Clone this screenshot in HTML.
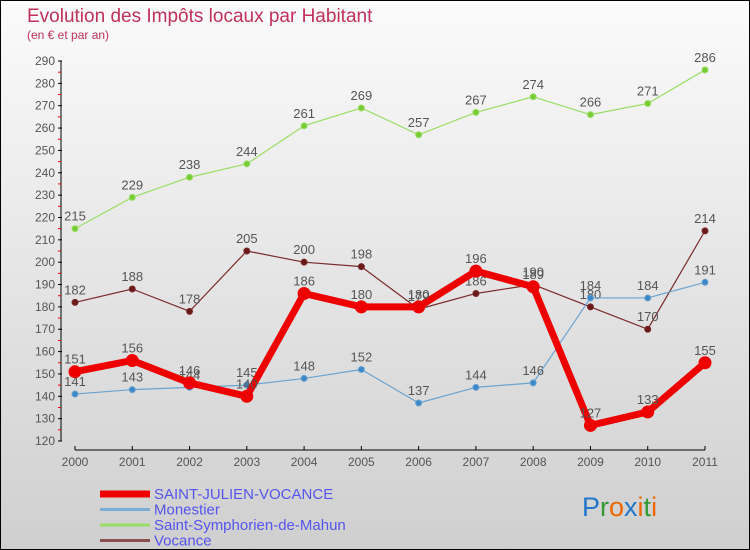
<!DOCTYPE html>
<html><head><meta charset="utf-8"><style>
body{margin:0}
#wrap{width:750px;height:550px;position:relative;box-sizing:border-box;border:1px solid #000;background:linear-gradient(#fbfbfb,#cfcfcf);font-family:"Liberation Sans",sans-serif;overflow:hidden}
</style></head><body>
<div id="wrap">
<svg id="svg" width="750" height="550" style="position:absolute;left:-1px;top:-1px"></svg>
</div>
<script>
const years=[2000,2001,2002,2003,2004,2005,2006,2007,2008,2009,2010,2011];
const sjv=[151,156,146,140,186,180,180,196,189,127,133,155];
const monestier=[141,143,144,145,148,152,137,144,146,184,184,191];
const ssm=[215,229,238,244,261,269,257,267,274,266,271,286];
const vocance=[182,188,178,205,200,198,179,186,190,180,170,214];
const yTicks=[120,130,140,150,160,170,180,190,200,210,220,230,240,250,260,270,280,290];
const NS='http://www.w3.org/2000/svg';
const svg=document.getElementById('svg');
function X(i){return 75+i*(630/11);}
function Y(v){return 441-(v-120)*(380/170);}
function el(t,a,p){const e=document.createElementNS(NS,t);for(const k in a)e.setAttribute(k,a[k]);(p||svg).appendChild(e);return e;}
function txt(x,y,s,sz,fill,anchor,name){const t=el('text',{x:x,y:y,'font-size':sz,fill:fill,'text-anchor':anchor||'middle','font-family':'"Liberation Sans",sans-serif'});t.textContent=s;return t;}
txt(27,22,'Evolution des Impôts locaux par Habitant',19,'#c0305a','start','chart-title');
txt(27,39,'(en € et par an)',12,'#c0305a','start','chart-subtitle');
let a=el('line',{x1:61,y1:Y(290),x2:61,y2:441,stroke:'#000','stroke-width':1});
a=el('line',{x1:75,y1:450,x2:705,y2:450,stroke:'#000','stroke-width':1});
yTicks.forEach(v=>{const t=el('line',{x1:58,y1:Y(v),x2:62,y2:Y(v),stroke:'#000'});
 if(v<290){const m=el('line',{x1:58,y1:Y(v+5),x2:61,y2:Y(v+5),stroke:'#e00'});}
 txt(55,Y(v)+4,String(v),12,'#555','end','y-tick-label');});
years.forEach((yr,i)=>{const t=el('line',{x1:X(i),y1:446,x2:X(i),y2:450,stroke:'#000'});
 txt(X(i),466,String(yr),12,'#555','middle','x-tick-label');});
function series(vals,color,dot,w,r,name){
 const pts=vals.map((v,i)=>X(i)+','+Y(v)).join(' ');
 const p=el('polyline',{points:pts,fill:'none',stroke:color,'stroke-width':w,'stroke-linejoin':'round','stroke-linecap':'round'});
 
 vals.forEach((v,i)=>{const c=el('circle',{cx:X(i),cy:Y(v),r:r,fill:dot,stroke:color,'stroke-width':1});
  
  txt(X(i),Y(v)-8,String(v),13,'#555','middle',name+'-value');});
}
series(ssm,'#99dd66','#77cc33',1.2,3,'saint-symphorien');
series(vocance,'#7a2a2a','#6a1a1a',1.2,3,'vocance');
series(monestier,'#6aa3d0','#3a88c8',1.2,3,'monestier');
series(sjv,'#ee0000','#ee0000',7,6,'saint-julien');
const leg=[['SAINT-JULIEN-VOCANCE','#ee0000',7],['Monestier','#7aaed6',3],['Saint-Symphorien-de-Mahun','#99dd66',3],['Vocance','#8a5050',3]];
leg.forEach((l,i)=>{const y=494+i*15.5;
 const ln=el('line',{x1:100,y1:y,x2:150,y2:y,stroke:l[1],'stroke-width':l[2]});
 txt(154,y+5,l[0],15,'#5555ee','start','legend-entry');});
const lg=el('text',{x:582,y:516,'font-size':27,'font-family':'"Liberation Sans",sans-serif'});

[['P','#2277cc'],['r','#339933'],['o','#ee6600'],['x','#2277cc'],['i','#ee6600'],['t','#339933'],['i','#ee6600']].forEach(c=>{const s=el('tspan',{fill:c[1]},lg);s.textContent=c[0];});
</script>
</body></html>
